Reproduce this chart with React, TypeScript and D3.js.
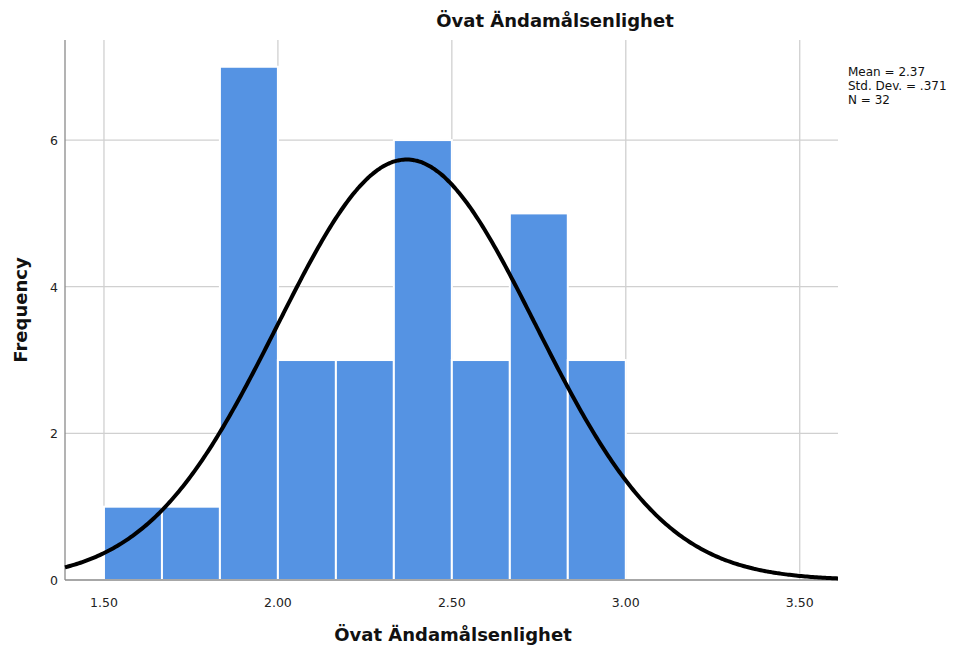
import React from "react";
import * as d3 from "d3";

// Histogram bins: lower edge, upper edge, count
const binStarts = [1.5, 1.6667, 1.8333, 2.0, 2.1667, 2.3333, 2.5, 2.6667, 2.8333];
const binEnds = [1.6667, 1.8333, 2.0, 2.1667, 2.3333, 2.5, 2.6667, 2.8333, 3.0];
const binCounts = [1, 1, 7, 3, 3, 6, 3, 5, 3];

const xTicks = [1.5, 2.0, 2.5, 3.0, 3.5];
const yTicks = [0, 2, 4, 6];

const mean = 2.37;
const stdDev = 0.371;
const n = 32;
const binWidth = 1 / 6;

const statLines = ["Mean = 2.37", "Std. Dev. = .371", "N = 32"];

const W = 963;
const H = 648;
const left = 65;
const right = 838;
const top = 40;
const bottom = 580;

const FONT = "'DejaVu Sans', Verdana, sans-serif";

export default function App() {
  const x = d3.scaleLinear().domain([1.388, 3.61]).range([left, right]);
  const y = d3.scaleLinear().domain([0, 7.365]).range([bottom, top]);

  const pdf = (v: number) =>
    (n * binWidth * Math.exp(-0.5 * ((v - mean) / stdDev) ** 2)) /
    (stdDev * Math.sqrt(2 * Math.PI));
  const curvePts = d3.range(0, 401).map((i) => {
    const v = 1.388 + ((3.61 - 1.388) * i) / 400;
    return [v, pdf(v)] as [number, number];
  });
  const line = d3
    .line<[number, number]>()
    .x((d) => x(d[0]))
    .y((d) => y(d[1]))
    .curve(d3.curveBasis);

  return (
    <svg
      width={W}
      height={H}
      style={{ position: "absolute", left: 0, top: 0, background: "#fff" }}
      fontFamily={FONT}
    >
      {/* gridlines */}
      {xTicks.map((t) => (
        <line key={"gx" + t} x1={x(t)} x2={x(t)} y1={top} y2={bottom} stroke="#d0d0d0" strokeWidth={1.3} />
      ))}
      {yTicks.filter((t) => t > 0).map((t) => (
        <line key={"gy" + t} x1={left} x2={right} y1={y(t)} y2={y(t)} stroke="#d0d0d0" strokeWidth={1.3} />
      ))}

      {/* bars */}
      {binCounts.map((c, i) => (
        <rect
          key={"b" + i}
          x={x(binStarts[i])}
          y={y(c)}
          width={x(binEnds[i]) - x(binStarts[i])}
          height={y(0) - y(c)}
          fill="#5593e3"
          stroke="#ffffff"
          strokeWidth={2}
        />
      ))}

      {/* axes */}
      <line x1={left} x2={left} y1={top} y2={bottom} stroke="#8a8a8a" strokeWidth={1.3} />
      <line x1={left} x2={right} y1={bottom} y2={bottom} stroke="#8a8a8a" strokeWidth={1.3} />

      {/* normal curve */}
      <path d={line(curvePts) || ""} fill="none" stroke="#000" strokeWidth={4} />

      {/* tick labels */}
      {xTicks.map((t) => (
        <text key={"tx" + t} x={x(t)} y={607} textAnchor="middle" fontSize={12.5} fill="#222">
          {t.toFixed(2)}
        </text>
      ))}
      {yTicks.map((t) => (
        <text key={"ty" + t} x={58} y={y(t) + 5} textAnchor="end" fontSize={12.5} fill="#222">
          {t}
        </text>
      ))}

      {/* titles */}
      <text x={555} y={27} textAnchor="middle" fontSize={18} fontWeight="bold" fill="#111">
        Övat Ändamålsenlighet
      </text>
      <text x={453} y={641} textAnchor="middle" fontSize={18} fontWeight="bold" fill="#111">
        Övat Ändamålsenlighet
      </text>
      <text
        transform={`translate(27,${310}) rotate(-90)`}
        textAnchor="middle"
        fontSize={18}
        fontWeight="bold"
        fill="#111"
      >
        Frequency
      </text>

      {/* summary statistics */}
      {statLines.map((s, i) => (
        <text key={"s" + i} x={848} y={76 + i * 14} fontSize={12} fill="#111">
          {s}
        </text>
      ))}
    </svg>
  );
}
